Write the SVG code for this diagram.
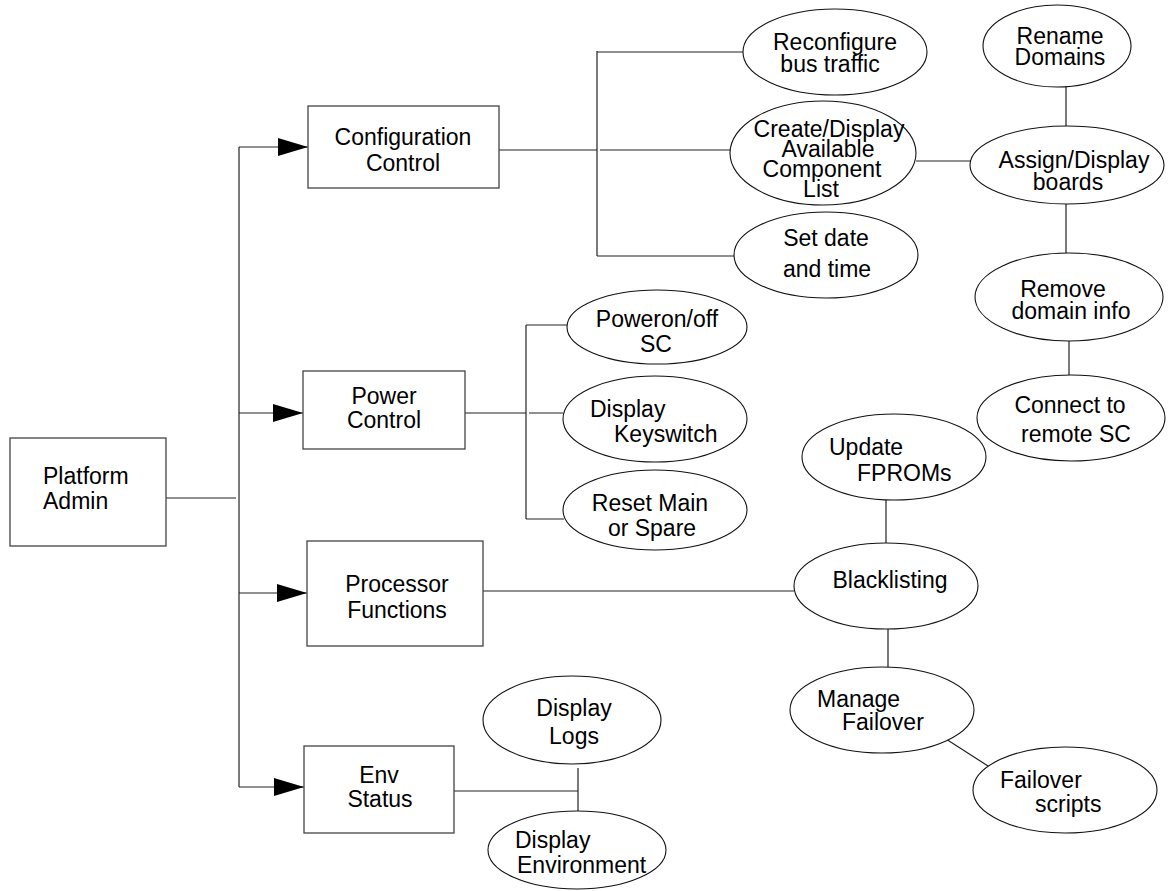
<svg xmlns="http://www.w3.org/2000/svg" width="1171" height="891" viewBox="0 0 1171 891">
<style>
text{font-family:"Liberation Sans",Arial,sans-serif;font-size:23px;fill:#000}
.m{text-anchor:middle}
.box{fill:#fff;stroke:#444;stroke-width:1.3}
.ell{fill:#fff;stroke:#111;stroke-width:1.1}
.ln{stroke:#222;stroke-width:1.2;fill:none}
</style>
<defs>
<marker id="ah" viewBox="0 0 30 18" refX="30" refY="9" markerWidth="30" markerHeight="18" markerUnits="userSpaceOnUse" orient="auto">
<path d="M0,0 L30,9 L0,18 z" fill="#000"/>
</marker>
</defs>
<rect width="1171" height="891" fill="#fff"/>
<g id="connectors">
<path class="ln" d="M239,147 V787"/>
<path class="ln" d="M166,498 H236"/>
<path class="ln" d="M239,147 H308" marker-end="url(#ah)"/>
<path class="ln" d="M239,413 H303" marker-end="url(#ah)"/>
<path class="ln" d="M239,593 H307" marker-end="url(#ah)"/>
<path class="ln" d="M239,787 H304" marker-end="url(#ah)"/>
<path class="ln" d="M499,150 H597 M600,150 H730 M597,51 V256 M597,52 H743 M597,256 H734"/>
<path class="ln" d="M916,161 H971"/>
<path class="ln" d="M1066,87 V126 M1066,204 V253 M1069,341 V375"/>
<path class="ln" d="M465,413 H526 M529,413 H563 M526,325 V519 M526,325 H567 M526,519 H564"/>
<path class="ln" d="M483,591 H794"/>
<path class="ln" d="M886,500 V543 M888,629 V667 M946,739 L988,766"/>
<path class="ln" d="M454,791 H578 M578,768 V811"/>
</g>
<g id="platform-admin"><rect class="box" x="10" y="438" width="156" height="108"/><text x="43" y="484">Platform</text><text x="43" y="509">Admin</text></g>
<g id="configuration-control"><rect class="box" x="308" y="106" width="191" height="82"/><text class="m" x="403" y="145">Configuration</text><text class="m" x="403" y="171">Control</text></g>
<g id="power-control"><rect class="box" x="303" y="371" width="162" height="78"/><text class="m" x="384" y="404">Power</text><text class="m" x="384" y="428">Control</text></g>
<g id="processor-functions"><rect class="box" x="307" y="541" width="176" height="105"/><text class="m" x="397" y="592">Processor</text><text class="m" x="397" y="618">Functions</text></g>
<g id="env-status"><rect class="box" x="304" y="746" width="150" height="87"/><text class="m" x="379" y="783">Env</text><text class="m" x="380" y="807">Status</text></g>
<g id="reconfigure"><ellipse class="ell" cx="835" cy="52" rx="92" ry="43"/><text class="m" x="835" y="50">Reconfigure</text><text class="m" x="830" y="72">bus traffic</text></g>
<g id="create-display"><ellipse class="ell" cx="823" cy="153" rx="93" ry="52"/><text class="m" x="829" y="137">Create/Display</text><text class="m" x="828" y="157">Available</text><text class="m" x="822" y="177">Component</text><text class="m" x="821" y="197">List</text></g>
<g id="set-date"><ellipse class="ell" cx="826" cy="255" rx="92" ry="43"/><text class="m" x="826" y="246">Set date</text><text class="m" x="827" y="277">and time</text></g>
<g id="rename-domains"><ellipse class="ell" cx="1057" cy="46" rx="74" ry="41"/><text class="m" x="1060" y="44">Rename</text><text class="m" x="1060" y="65">Domains</text></g>
<g id="assign-display"><ellipse class="ell" cx="1067" cy="165" rx="97" ry="39"/><text class="m" x="1074" y="168">Assign/Display</text><text class="m" x="1068" y="190">boards</text></g>
<g id="remove-domain"><ellipse class="ell" cx="1069" cy="297" rx="94" ry="44"/><text class="m" x="1063" y="297">Remove</text><text class="m" x="1071" y="319">domain info</text></g>
<g id="connect-remote"><ellipse class="ell" cx="1071" cy="418" rx="94" ry="43"/><text class="m" x="1070" y="413">Connect to</text><text class="m" x="1076" y="442">remote SC</text></g>
<g id="poweron"><ellipse class="ell" cx="657" cy="327" rx="90" ry="37"/><text class="m" x="657" y="327">Poweron/off</text><text class="m" x="656" y="352">SC</text></g>
<g id="display-keyswitch"><ellipse class="ell" cx="655" cy="419" rx="92" ry="43"/><text x="590" y="417">Display</text><text x="614" y="442">Keyswitch</text></g>
<g id="reset-main"><ellipse class="ell" cx="655" cy="510" rx="92" ry="40"/><text class="m" x="650" y="511">Reset Main</text><text class="m" x="652" y="536">or Spare</text></g>
<g id="update-fproms"><ellipse class="ell" cx="894" cy="457" rx="92" ry="43"/><text x="829" y="455">Update</text><text x="857" y="481">FPROMs</text></g>
<g id="blacklisting"><ellipse class="ell" cx="886" cy="586" rx="92" ry="43"/><text class="m" x="890" y="588">Blacklisting</text></g>
<g id="manage-failover"><ellipse class="ell" cx="882" cy="710" rx="92" ry="43"/><text x="817" y="707">Manage</text><text x="842" y="730">Failover</text></g>
<g id="failover-scripts"><ellipse class="ell" cx="1065" cy="790" rx="92" ry="43"/><text x="1000" y="788">Failover</text><text x="1035" y="812">scripts</text></g>
<g id="display-logs"><ellipse class="ell" cx="572" cy="720" rx="89" ry="44"/><text class="m" x="574" y="716">Display</text><text class="m" x="574" y="744">Logs</text></g>
<g id="display-environment"><ellipse class="ell" cx="577" cy="850" rx="89" ry="39"/><text x="515" y="848">Display</text><text x="517" y="873">Environment</text></g>
</svg>
